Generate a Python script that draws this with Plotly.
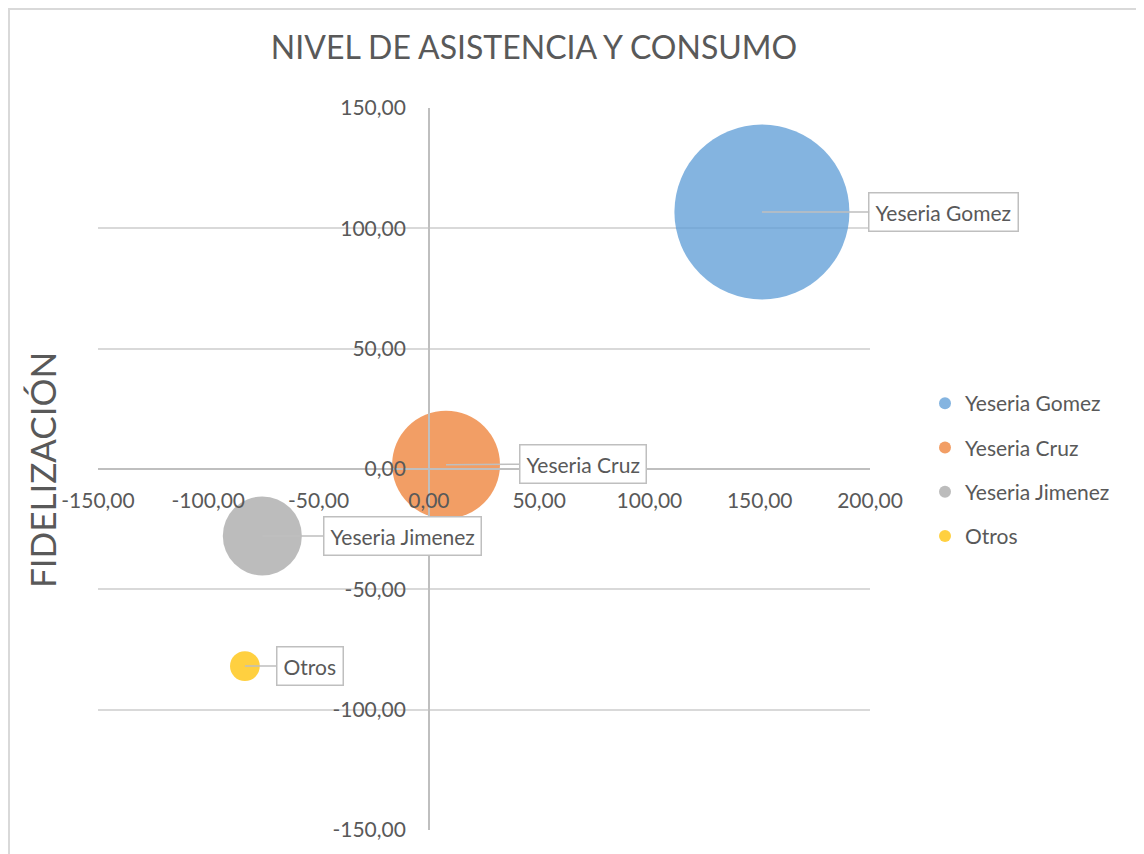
#!/usr/bin/env python3
"""
Gráfico de burbujas - Nivel de asistencia y consumo
"""

import plotly.graph_objects as go

# Datos
nombres = ['Yeseria Gomez', 'Yeseria Cruz', 'Yeseria Jimenez', 'Otros']
asistencia = [151.0, 7.8, -75.5, -83.4]      # eje X
fidelizacion = [106.8, 1.8, -27.8, -81.9]    # eje Y
consumo = [100.0, 38.0, 20.4, 2.9]           # tamaño de la burbuja

colores = ['#5B9BD5', '#ED7D31', '#A5A5A5', '#FFC000']

ticks_x = [-150, -100, -50, 0, 50, 100, 150, 200]
ticks_y = [-150, -100, -50, 0, 50, 100, 150]

# desplazamiento (px) de cada etiqueta respecto a su burbuja
etiqueta_dx = [182, 137, 140, 65]
etiqueta_dy = [0, -1, 0, 0]

FUENTE = 'Lato'
GRIS_TEXTO = '#595959'

# geometría de la figura (px); la página añade 8 px de margen
W, H = 1136, 846
ML, MT = 90, 100
PW, PH = 772, 722
MR, MB = W - ML - PW, H - MT - PH


def etiqueta(v):
    """Formato 150,00 con guion normal"""
    return f'{v:.2f}'.replace('.', ',')


def crear_figura():
    fig = go.Figure()

    max_size = max(consumo)
    for i, nombre in enumerate(nombres):
        fig.add_trace(go.Scatter(
            x=[asistencia[i]],
            y=[fidelizacion[i]],
            mode='markers',
            name=nombre,
            legendgroup=nombre,
            marker=dict(
                size=[consumo[i]],
                sizemode='area',
                sizeref=2.0 * max_size / (175 ** 2),
                color=colores[i],
                opacity=0.75,
                line=dict(width=0),
            ),
        ))

    # etiquetas tipo globo
    anotaciones = []
    for i, nombre in enumerate(nombres):
        anotaciones.append(dict(
            x=asistencia[i], y=fidelizacion[i], xref='x', yref='y',
            text=nombre, showarrow=True, arrowhead=0, arrowwidth=1.5,
            arrowcolor='#BFBFBF', ax=etiqueta_dx[i], ay=etiqueta_dy[i],
            bgcolor='white', bordercolor='#BFBFBF', borderwidth=1.5,
            borderpad=6, font=dict(family=FUENTE, size=21, color=GRIS_TEXTO),
        ))

    # título del eje Y
    anotaciones.append(dict(
        x=(34 - ML) / PW, y=(H - 470 + 8 - MB) / PH, xref='paper', yref='paper',
        xanchor='center', yanchor='middle',
        text='FIDELIZACIÓN', textangle=-90, showarrow=False,
        font=dict(family=FUENTE, size=35, color=GRIS_TEXTO),
    ))

    fig.update_layout(
        width=W, height=H,
        margin=dict(l=ML, r=MR, t=MT, b=MB),
        paper_bgcolor='white', plot_bgcolor='white',
        separators=', ',
        title=dict(
            text='NIVEL DE ASISTENCIA Y CONSUMO',
            x=526 / W, xref='container', xanchor='center',
            y=1 - 40 / H, yref='container', yanchor='middle',
            font=dict(family=FUENTE, size=32, color=GRIS_TEXTO),
        ),
        font=dict(family=FUENTE, size=21, color=GRIS_TEXTO),
        showlegend=True,
        legend=dict(
            x=(917 - ML) / PW, y=(H - 462 - MB) / PH,
            xanchor='left', yanchor='middle',
            traceorder='grouped', tracegroupgap=14, itemsizing='constant',
            font=dict(family=FUENTE, size=21, color=GRIS_TEXTO),
            bgcolor='rgba(0,0,0,0)',
        ),
        annotations=anotaciones,
        shapes=[dict(
            type='rect', xref='paper', yref='paper', layer='above',
            x0=(1 - ML) / PW, x1=(W + 20 - ML) / PW,
            y0=-(MB + 20) / PH, y1=1 + (MT - 1) / PH,
            line=dict(color='#D9D9D9', width=2), fillcolor='rgba(0,0,0,0)',
        )],
    )

    # eje X cruzando en y = 0
    fig.update_xaxes(
        range=[-150, 200], anchor='free', position=0.5,
        showgrid=False, zeroline=False,
        showline=True, linecolor='#BFBFBF', linewidth=1.5,
        tickvals=ticks_x, ticktext=[etiqueta(v) for v in ticks_x],
        ticks='', ticklabelstandoff=13,
        tickfont=dict(family=FUENTE, size=21, color=GRIS_TEXTO),
    )
    # eje Y cruzando en x = 0
    fig.update_yaxes(
        range=[-150, 150], anchor='free', position=150 / 350,
        showgrid=True, gridcolor='#D9D9D9', gridwidth=1.5, zeroline=False,
        showline=True, linecolor='#BFBFBF', linewidth=1.5,
        tickvals=ticks_y, ticktext=[etiqueta(v) for v in ticks_y],
        ticks='', ticklabelstandoff=18,
        tickfont=dict(family=FUENTE, size=21, color=GRIS_TEXTO),
    )

    return fig


if __name__ == "__main__":
    fig = crear_figura()
    fig.write_html("out.html")
